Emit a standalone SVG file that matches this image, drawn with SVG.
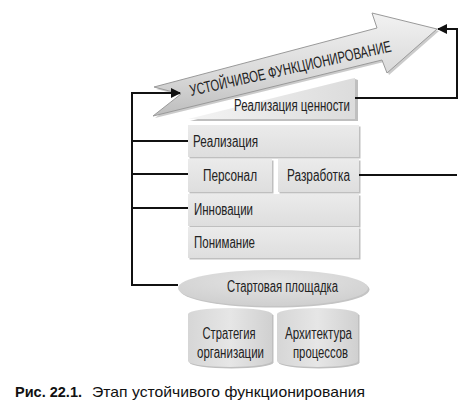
<svg xmlns="http://www.w3.org/2000/svg" width="471" height="414" viewBox="0 0 471 414">
<defs>
  <linearGradient id="gArrow" x1="0" y1="0" x2="0" y2="1">
    <stop offset="0" stop-color="#f2f2f2"/>
    <stop offset="0.6" stop-color="#d9d9d9"/>
    <stop offset="1" stop-color="#bdbdbd"/>
  </linearGradient>
  <linearGradient id="gBox" x1="0" y1="0" x2="0" y2="1">
    <stop offset="0" stop-color="#ebebeb"/>
    <stop offset="1" stop-color="#dedede"/>
  </linearGradient>
  <linearGradient id="gTrap" x1="0" y1="0" x2="1" y2="0">
    <stop offset="0" stop-color="#f4f4f4"/>
    <stop offset="1" stop-color="#dcdcdc"/>
  </linearGradient>
  <radialGradient id="gEll" cx="0.5" cy="0.3" r="0.7">
    <stop offset="0" stop-color="#e4e4e4"/>
    <stop offset="1" stop-color="#cfcfcf"/>
  </radialGradient>
  <linearGradient id="gCyl" x1="0" y1="0" x2="1" y2="0">
    <stop offset="0" stop-color="#d6d6d6"/>
    <stop offset="0.5" stop-color="#e6e6e6"/>
    <stop offset="1" stop-color="#d0d0d0"/>
  </linearGradient>
  <marker id="ah" viewBox="0 0 10 10" refX="9" refY="5" markerWidth="5" markerHeight="5" orient="auto" markerUnits="strokeWidth">
    <path d="M0,0 L10,5 L0,10 Z" fill="#111"/>
  </marker>
</defs>
<style>
  .lbl { font-family: "Liberation Sans", Arial, sans-serif; font-size: 16px; fill: #222; }
  .box { fill: url(#gBox); }
  .shadow { fill: #bfbfbf; }
  .conn { fill: none; stroke: #111; stroke-width: 2; }
  .cap { font-family: "Liberation Sans", Arial, sans-serif; font-size: 15px; fill: #111; }
</style>
<rect width="471" height="414" fill="#ffffff"/>

<g id="arrow-main">
  <polygon points="156,89 379,30 374,15 439,31 389,75 384,62 155,118 183,96" fill="#a9a9a9" opacity="0.6"/>
  <polygon points="154,87 377,28 372,13 437,29 387,73 382,60 153,116 181,94" fill="url(#gArrow)" stroke="#9a9a9a" stroke-width="1"/>
  <text class="lbl" x="191" y="96" font-size="19" textLength="206" lengthAdjust="spacingAndGlyphs" transform="rotate(-12.5 191 96)">УСТОЙЧИВОЕ ФУНКЦИОНИРОВАНИЕ</text>
</g>

<g id="node-value">
  <polygon points="190,121 358,121 358,80 355,79" class="shadow"/>
  <polygon points="188,119 355,119 355,78 350,79" fill="url(#gTrap)"/>
  <text class="lbl" x="234" y="111" textLength="116" lengthAdjust="spacingAndGlyphs">Реализация ценности</text>
</g>

<g id="node-realization">
  <rect x="189.5" y="126.5" width="171" height="32" class="shadow"/>
  <rect x="188" y="125" width="171" height="32" class="box"/>
  <text class="lbl" x="193" y="147" textLength="65" lengthAdjust="spacingAndGlyphs">Реализация</text>
</g>

<g id="node-personnel">
  <rect x="189.5" y="160.5" width="84" height="33" class="shadow"/>
  <rect x="188" y="159" width="84" height="33" class="box"/>
  <text class="lbl" x="203" y="181" textLength="54" lengthAdjust="spacingAndGlyphs">Персонал</text>
</g>

<g id="node-development">
  <rect x="279.5" y="160.5" width="81" height="33" class="shadow"/>
  <rect x="278" y="159" width="81" height="33" class="box"/>
  <text class="lbl" x="287" y="181" textLength="63" lengthAdjust="spacingAndGlyphs">Разработка</text>
</g>

<g id="node-innovation">
  <rect x="189.5" y="195.5" width="171" height="32" class="shadow"/>
  <rect x="188" y="194" width="171" height="32" class="box"/>
  <text class="lbl" x="194" y="215" textLength="59" lengthAdjust="spacingAndGlyphs">Инновации</text>
</g>

<g id="node-understanding">
  <rect x="189.5" y="228.5" width="171" height="31" class="shadow"/>
  <rect x="188" y="227" width="171" height="31" class="box"/>
  <text class="lbl" x="194" y="248" textLength="61" lengthAdjust="spacingAndGlyphs">Понимание</text>
</g>

<g id="node-launchpad">
  <ellipse cx="274.5" cy="289.5" rx="95" ry="18" fill="#c4c4c4"/>
  <ellipse cx="273" cy="288" rx="95" ry="18" fill="url(#gEll)"/>
  <text class="lbl" x="282.5" y="292" text-anchor="middle" textLength="111" lengthAdjust="spacingAndGlyphs">Стартовая площадка</text>
</g>

<g id="node-strategy">
  <path d="M189.5,315.5 A42,6 0 0 1 273.5,315.5 V362.5 A42,6 0 0 1 189.5,362.5 Z" class="shadow"/>
  <path d="M188,314 A42,6 0 0 1 272,314 V361 A42,6 0 0 1 188,361 Z" fill="url(#gCyl)"/>
  <text class="lbl" x="229" y="339" text-anchor="middle" textLength="53" lengthAdjust="spacingAndGlyphs">Стратегия</text>
  <text class="lbl" x="230.5" y="358" text-anchor="middle" textLength="67" lengthAdjust="spacingAndGlyphs">организации</text>
</g>

<g id="node-architecture">
  <path d="M278.5,315.5 A40.5,6 0 0 1 359.5,315.5 V362.5 A40.5,6 0 0 1 278.5,362.5 Z" class="shadow"/>
  <path d="M277,314 A40.5,6 0 0 1 358,314 V361 A40.5,6 0 0 1 277,361 Z" fill="url(#gCyl)"/>
  <text class="lbl" x="318.5" y="339" text-anchor="middle" textLength="67" lengthAdjust="spacingAndGlyphs">Архитектура</text>
  <text class="lbl" x="320.5" y="358" text-anchor="middle" textLength="55" lengthAdjust="spacingAndGlyphs">процессов</text>
</g>

<g id="connectors">
  <path class="conn" d="M178,285 H132 V93 H180" marker-end="url(#ah)"/>
  <path class="conn" d="M132,141 H188"/>
  <path class="conn" d="M132,174 H188"/>
  <path class="conn" d="M132,208 H188"/>
  <path class="conn" d="M355,98 H457 V29 H438" marker-end="url(#ah)"/>
  <path class="conn" d="M359,175 H457"/>
</g>

<g id="caption">
  <text class="cap" x="15" y="397" font-weight="bold" textLength="67" lengthAdjust="spacingAndGlyphs">Рис. 22.1.</text>
  <text class="cap" x="92" y="397" textLength="273" lengthAdjust="spacingAndGlyphs">Этап устойчивого функционирования</text>
</g>
</svg>
